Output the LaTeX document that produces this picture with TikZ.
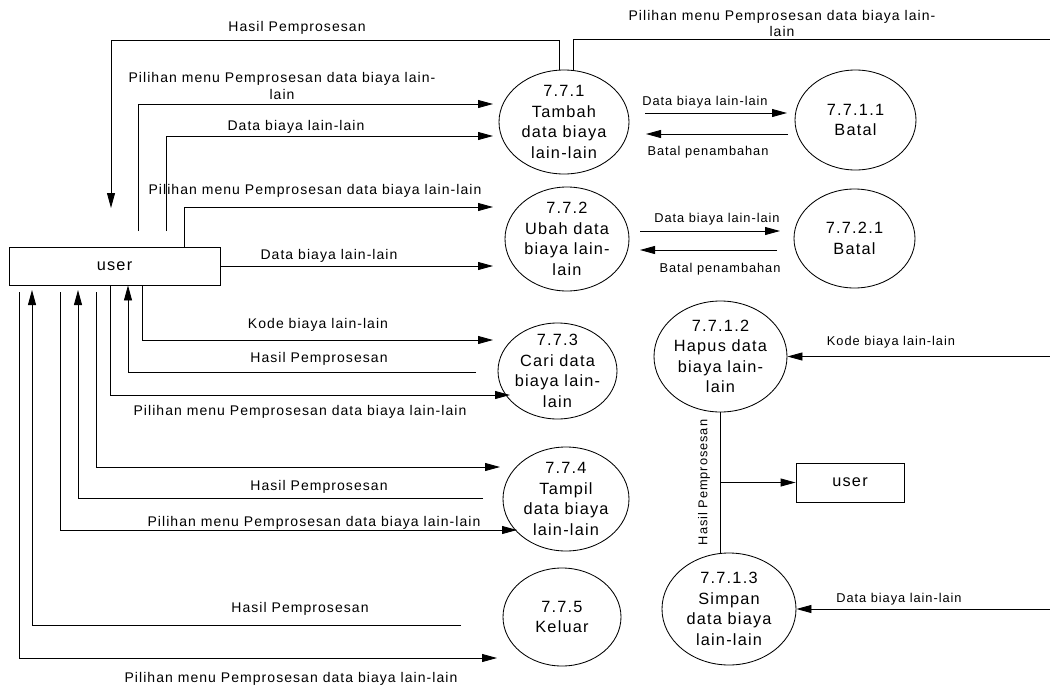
\documentclass[tikz,border=0pt]{standalone}
\usepackage{fontspec}
\setmainfont{Liberation Sans}[LetterSpace=7.5]
\usetikzlibrary{arrows.meta,shapes.geometric}
\begin{document}
\begin{tikzpicture}[x=1pt,y=-1pt,
  flow/.style={line width=0.85pt},
  arr/.style={flow,-{Triangle[length=15pt,width=8pt]}},
  proc/.style={ellipse,draw,line width=0.85pt,inner sep=0pt},
  ptext/.style={align=center,inner sep=0pt,font=\fontsize{16.3}{20.5}\selectfont},
  ent/.style={rectangle,draw,line width=0.85pt,inner sep=0pt,font=\fontsize{16.3}{19}\selectfont},
  lbl/.style={align=center,inner sep=0pt,font=\fontsize{14}{16.5}\selectfont},
  slbl/.style={align=center,inner sep=0pt,font=\fontsize{12.8}{15}\selectfont}]
\useasboundingbox (0,0) rectangle (1050,691);

% processes
\node[proc,minimum width=130pt,minimum height=104pt] (p1) at (564,122) {};
\node[ptext] (p1t) at (p1.center) {7.7.1\\Tambah\\data biaya\\lain-lain};
\node[proc,minimum width=121pt,minimum height=100pt] (p11) at (855.5,120) {};
\node[ptext] (p11t) at (p11.center) {7.7.1.1\\Batal};
\node[proc,minimum width=124pt,minimum height=104pt] (p2) at (567,239) {};
\node[ptext] (p2t) at (p2.center) {7.7.2\\Ubah data\\biaya lain-\\lain};
\node[proc,minimum width=121pt,minimum height=99pt] (p21) at (854.5,238.5) {};
\node[ptext] (p21t) at (p21.center) {7.7.2.1\\Batal};
\node[proc,minimum width=119pt,minimum height=96pt] (p3) at (557.5,371) {};
\node[ptext] (p3t) at (p3.center) {7.7.3\\Cari data\\biaya lain-\\lain};
\node[proc,minimum width=133pt,minimum height=111pt] (p12) at (720.5,356.5) {};
\node[ptext] (p12t) at (p12.center) {7.7.1.2\\Hapus data\\biaya lain-\\lain};
\node[proc,minimum width=126pt,minimum height=104pt] (p4) at (566,499) {};
\node[ptext] (p4t) at (p4.center) {7.7.4\\Tampil\\data biaya\\lain-lain};
\node[proc,minimum width=118pt,minimum height=98pt] (p5) at (562,617) {};
\node[ptext] (p5t) at (p5.center) {7.7.5\\Keluar};
\node[proc,minimum width=134pt,minimum height=112pt] (p13) at (729,609) {};
\node[ptext] (p13t) at (p13.center) {7.7.1.3\\Simpan\\data biaya\\lain-lain};

% entities
\node[ent,minimum width=211pt,minimum height=38pt] (u1) at (114.5,266) {user};
\node[ent,minimum width=108pt,minimum height=39pt] (u2) at (850,482.5) {user};

% free ends
\coordinate (a1) at (111,208);
\coordinate (r1) at (1050,39);
\coordinate (s3) at (138,231); \coordinate (t3) at (493,104);
\coordinate (s4) at (166,231); \coordinate (t4) at (493,136);
\coordinate (t5) at (493,207);
\coordinate (t6) at (493,266);
\coordinate (t7) at (493,340);
\coordinate (s8) at (476,372);
\coordinate (t9) at (510,395);
\coordinate (s10) at (96,292); \coordinate (t10) at (500,467);
\coordinate (s11) at (483,498); \coordinate (e11) at (78,290);
\coordinate (s12) at (60,292); \coordinate (t12) at (517,530);
\coordinate (s13) at (461,625); \coordinate (e13) at (32,290);
\coordinate (s14) at (19,292); \coordinate (t14) at (497,658);
\coordinate (b1s) at (645,113); \coordinate (b1e) at (787,113);
\coordinate (b2s) at (788,134); \coordinate (b2e) at (646,134);
\coordinate (b3s) at (640,231); \coordinate (b3e) at (780,231);
\coordinate (b4s) at (777,250); \coordinate (b4e) at (640,250);
\coordinate (k1) at (1050,356.5);
\coordinate (k2) at (1050,609);

% connectors left
\draw[arr] ([xshift=-5pt]p1.north) -- ++(0,-29) -| (a1);
\draw[flow] ([xshift=9pt]p1.north) |- (r1);
\draw[arr] (s3) |- (t3);
\draw[arr] (s4) |- (t4);
\draw[arr] ([xshift=69.5pt]u1.north) |- (t5);
\draw[arr] (u1.east) -- (t6);
\draw[arr] ([xshift=27.5pt]u1.south) |- (t7);
\draw[arr] (s8) -| ([xshift=13.5pt]u1.south);
\draw[arr] ([xshift=-4.5pt]u1.south) |- (t9);
\draw[arr] (s10) |- (t10);
\draw[arr] (s11) -| (e11);
\draw[arr] (s12) |- (t12);
\draw[arr] (s13) -| (e13);
\draw[arr] (s14) |- (t14);

% connectors right
\draw[arr] (b1s) -- (b1e);
\draw[arr] (b2s) -- (b2e);
\draw[arr] (b3s) -- (b3e);
\draw[arr] (b4s) -- (b4e);
\draw[arr] (k1) -- (p12.east);
\draw[arr] (k2) -- (p13.east);
\draw[flow] (p12.south) -- (p12.south |- p13.north);
\draw[arr] (p12.south |- u2.west) -- (u2.west);

% labels
\node[lbl] (l1) at (297,28) {Hasil Pemprosesan};
\node[lbl] (l2) at (782,23.5) {Pilihan menu Pemprosesan data biaya lain-\\lain};
\node[lbl] (l3) at (282,86) {Pilihan menu Pemprosesan data biaya lain-\\lain};
\node[lbl] (l4) at (296,127) {Data biaya lain-lain};
\node[lbl] (l5) at (315,191) {Pilihan menu Pemprosesan data biaya lain-lain};
\node[lbl] (l6) at (329,256) {Data biaya lain-lain};
\node[lbl] (l7) at (318,325) {Kode biaya lain-lain};
\node[lbl] (l8) at (319,359) {Hasil Pemprosesan};
\node[lbl] (l9) at (300,412) {Pilihan menu Pemprosesan data biaya lain-lain};
\node[lbl] (l11) at (319,487) {Hasil Pemprosesan};
\node[lbl] (l12) at (314,523) {Pilihan menu Pemprosesan data biaya lain-lain};
\node[lbl] (l13) at (300,609) {Hasil Pemprosesan};
\node[lbl] (l14) at (291,679) {Pilihan menu Pemprosesan data biaya lain-lain};
\node[slbl] (m1) at (705,102) {Data biaya lain-lain};
\node[slbl] (m2) at (708,152) {Batal penambahan};
\node[slbl] (m3) at (717,219) {Data biaya lain-lain};
\node[slbl] (m4) at (720,269) {Batal penambahan};
\node[slbl] (m5) at (891,342) {Kode biaya lain-lain};
\node[slbl] (m6) at (899,599) {Data biaya lain-lain};
\node[slbl,rotate=90] (m7) at (704,482.5) {Hasil Pemprosesan};
\end{tikzpicture}
\end{document}
